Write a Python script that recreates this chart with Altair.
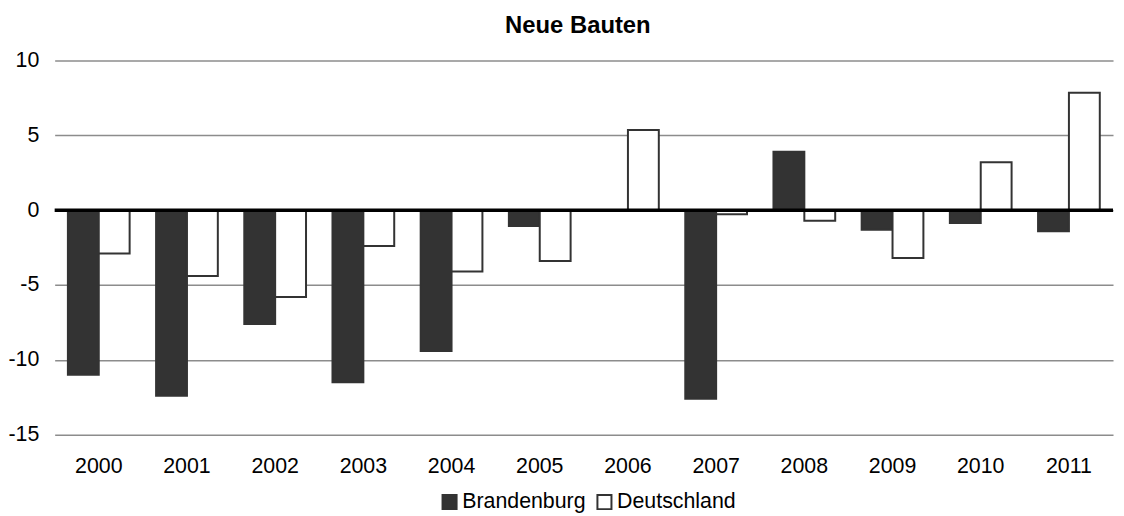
import altair as alt
import pandas as pd

years = ["2000", "2001", "2002", "2003", "2004", "2005", "2006", "2007", "2008", "2009", "2010", "2011"]
brandenburg = [-11.0, -12.4, -7.6, -11.5, -9.4, -1.05, 0.0, -12.6, 3.9, -1.3, -0.85, -1.4]
deutschland = [-2.9, -4.4, -5.8, -2.4, -4.1, -3.4, 5.35, -0.27, -0.7, -3.2, 3.2, 7.85]
series = ["Brandenburg", "Deutschland"]
y_ticks = [-15, -10, -5, 0, 5, 10]

rows = []
for i, yr in enumerate(years):
    rows.append({"Jahr": yr, "Serie": series[0], "Wert": brandenburg[i]})
    rows.append({"Jahr": yr, "Serie": series[1], "Wert": deutschland[i]})
df = pd.DataFrame(rows)

FONT = "Liberation Sans"

bars = alt.Chart(df).mark_bar(stroke="#333333", strokeWidth=2).encode(
    x=alt.X("Jahr:N", sort=years, title=None,
            scale=alt.Scale(paddingInner=0.3, paddingOuter=0.15),
            axis=alt.Axis(labelAngle=0, domain=False, ticks=False, labelPadding=21,
                          labelFontSize=21.5, labelFont=FONT, labelColor="#000000")),
    xOffset=alt.XOffset("Serie:N", sort=series, scale=alt.Scale(paddingInner=0)),
    y=alt.Y("Wert:Q", title=None,
            scale=alt.Scale(domain=[-15, 10], nice=False, zero=False),
            axis=alt.Axis(values=y_ticks, domain=False, ticks=False, labelPadding=16,
                          labelExpr="'' + datum.value",
                          labelFontSize=21.5, labelFont=FONT, labelColor="#000000",
                          grid=True, gridColor="#8c8c8c", gridWidth=1.5)),
    fill=alt.Fill("Serie:N", sort=series,
                  scale=alt.Scale(domain=series, range=["#333333", "#ffffff"]),
                  legend=alt.Legend(title=None, orient="none", direction="horizontal",
                                    legendX=387, legendY=434, symbolType="square",
                                    symbolSize=200, symbolStrokeColor="#333333",
                                    symbolStrokeWidth=2, labelFontSize=21.5, labelFont=FONT,
                                    labelColor="#000000", labelOffset=2, columnPadding=7,
                                    padding=0)),
)

zero = alt.Chart(pd.DataFrame({"v": [0]})).mark_rule(color="#000000", strokeWidth=3.5).encode(
    y=alt.Y("v:Q")
)

chart = alt.layer(bars, zero).properties(
    width=1066,
    height=377,
    title=alt.TitleParams("Neue Bauten", font=FONT, fontSize=24, fontWeight="bold",
                          color="#000000", anchor="middle", offset=12, dx=-6),
    autosize=alt.AutoSizeParams(type="none"),
    padding={"left": 47, "top": 51, "right": 3, "bottom": 80},
).configure_view(stroke=None)

chart.save("out.html", embed_options={"renderer": "svg", "actions": False})
